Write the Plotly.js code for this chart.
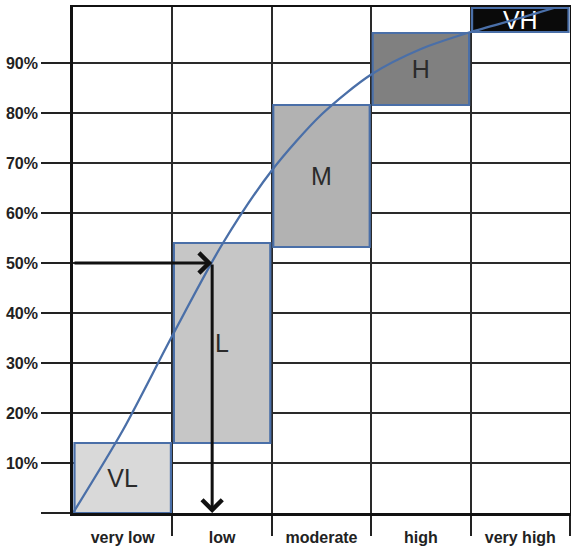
<!DOCTYPE html>
<html>
<head>
<meta charset="utf-8">
<script src="https://cdn.plot.ly/plotly-3.0.1.min.js"></script>
<style>html,body{margin:0;padding:0;background:#fff;}#chart{width:571px;height:552px;}</style>
</head>
<body>
<div id="chart"></div>
<script>
// Categories along the x axis
const categories = ['very low', 'low', 'moderate', 'high', 'very high'];
const categoryPos = [0.5, 1.5, 2.5, 3.5, 4.5];
const boundaryPos = [1, 2, 3, 4, 5];

// Boxes (lower / upper probability bounds per class)
const boxLabels = ['VL', 'L', 'M', 'H', 'VH'];
const boxLower = [0, 0.14, 0.532, 0.816, 0.962];
const boxUpper = [0.14, 0.54, 0.816, 0.96, 1.01];
const boxFill = ['#d9d9d9', '#c6c6c6', '#b2b2b2', '#808080', '#0a0a0a'];
const boxTextColor = ['#2b2b2b', '#2b2b2b', '#2b2b2b', '#2b2b2b', '#ffffff'];

// Cumulative curve
const curveX = [0, 0.5, 1.0, 1.5, 2.0, 2.5, 3.0, 3.5, 4.0, 4.5, 5.0];
const curveY = [0, 0.165, 0.355, 0.537, 0.685, 0.797, 0.877, 0.928, 0.962, 0.99, 1.02];

// Y tick labels
const yTickVals = [0, 0.1, 0.2, 0.3, 0.4, 0.5, 0.6, 0.7, 0.8, 0.9];
const yTickText = ['', '10%', '20%', '30%', '40%', '50%', '60%', '70%', '80%', '90%'];

// Reading arrows: from axis to curve at 50%, then down to the category axis
const readX = [0, 1.4];
const readY = [0.5, 0];

const blue = '#4a6fa8';

const boxBar = {
  type: 'bar',
  x: categoryPos,
  base: boxLower,
  y: boxUpper.map((u, i) => u - boxLower[i]),
  width: 0.97,
  marker: {color: boxFill, line: {color: blue, width: 2.2}},
  text: boxLabels,
  textposition: 'inside',
  insidetextanchor: 'middle',
  constraintext: 'none',
  textfont: {family: 'Liberation Sans, Arial, sans-serif', size: 25, color: boxTextColor},
  hoverinfo: 'skip',
  showlegend: false
};

const curve = {
  type: 'scatter',
  mode: 'lines',
  x: curveX,
  y: curveY,
  line: {color: blue, width: 2.3, shape: 'spline', smoothing: 0.8},
  hoverinfo: 'skip',
  showlegend: false
};

const tickFont = {family: 'Liberation Sans, Arial, sans-serif', size: 16, color: '#222', weight: 'bold'};

const layout = {
  width: 571,
  height: 552,
  margin: {l: 73, r: 1, t: 7, b: 39},
  paper_bgcolor: '#fff',
  plot_bgcolor: '#fff',
  showlegend: false,
  bargap: 0,
  xaxis: {
    range: [0, 5],
    tickmode: 'array',
    tickvals: categoryPos,
    ticktext: categories,
    ticks: 'outside',
    ticklen: 8,
    tickcolor: 'rgba(0,0,0,0)',
    showgrid: false,
    zeroline: false,
    showline: true,
    mirror: true,
    linecolor: '#111',
    linewidth: 2.5,
    tickfont: tickFont,
    minor: {
      tickmode: 'array',
      tickvals: boundaryPos,
      ticks: 'outside',
      ticklen: 20,
      tickwidth: 2,
      tickcolor: '#222',
      showgrid: true,
      gridcolor: '#2a2a2a',
      gridwidth: 2
    },
    fixedrange: true
  },
  yaxis: {
    range: [0, 1.012],
    tickmode: 'array',
    tickvals: yTickVals,
    ticktext: yTickText,
    ticks: 'outside',
    ticklen: 29,
    tickwidth: 1.8,
    tickcolor: '#222',
    showgrid: true,
    gridcolor: '#2a2a2a',
    gridwidth: 1.8,
    zeroline: false,
    showline: true,
    mirror: true,
    linecolor: '#111',
    linewidth: 2.8,
    tickfont: tickFont,
    fixedrange: true
  },
  annotations: [
    {
      x: readX[1], y: readY[0], ax: readX[0], ay: readY[0],
      xref: 'x', yref: 'y', axref: 'x', ayref: 'y',
      text: '', showarrow: true, arrowhead: 4, arrowsize: 1.3, arrowwidth: 3, arrowcolor: '#111', standoff: 0
    },
    {
      x: readX[1], y: readY[1], ax: readX[1], ay: readY[0],
      xref: 'x', yref: 'y', axref: 'x', ayref: 'y',
      text: '', showarrow: true, arrowhead: 4, arrowsize: 1.3, arrowwidth: 3, arrowcolor: '#111', standoff: 0
    }
  ]
};

Plotly.newPlot('chart', [boxBar, curve], layout, {staticPlot: true, displayModeBar: false});
</script>
</body>
</html>
